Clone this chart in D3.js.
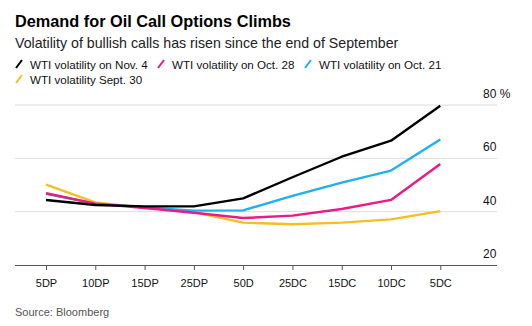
<!DOCTYPE html>
<html lang="en">
<head>
<meta charset="UTF-8">
<script src="https://d3js.org/d3.v7.min.js"></script>
<style>
  body { margin: 0; background: #fff; }
  svg text { font-family: "Liberation Sans", Arial, sans-serif; }
</style>
</head>
<body>
<div id="chart"></div>
<script>
  // strike buckets along the skew
  const strikes = ["5DP", "10DP", "15DP", "25DP", "50D", "25DC", "15DC", "10DC", "5DC"];

  const nov4  = [44.4, 42.5, 42.0, 42.0, 45.0, 52.9, 60.6, 66.6, 79.7];
  const oct28 = [46.9, 43.0, 41.4, 39.6, 37.6, 38.5, 41.0, 44.4, 57.9];
  const oct21 = [46.7, 43.0, 41.6, 40.4, 40.5, 45.9, 50.9, 55.4, 67.1];
  const sep30 = [50.1, 43.5, 41.5, 39.8, 35.9, 35.3, 35.9, 37.1, 40.2];

  const yTicks = [20, 40, 60, 80];

  const series = [
    { name: "WTI volatility on Nov. 4",  values: nov4,  color: "#000000" },
    { name: "WTI volatility on Oct. 28", values: oct28, color: "#ec1a82" },
    { name: "WTI volatility on Oct. 21", values: oct21, color: "#1fb0f0" },
    { name: "WTI volatility Sept. 30",   values: sep30, color: "#f7be21" }
  ];
  // draw order: yellow at the back, then blue, magenta, black on top
  const drawOrder = [3, 2, 1, 0];

  const W = 532, H = 326;
  const plotLeft = 15, plotRight = 497, plotTop = 105, plotBottom = 265;

  const svg = d3.select("#chart").append("svg")
    .attr("width", W)
    .attr("height", H);

  svg.append("text")
    .attr("x", 15).attr("y", 27)
    .style("font-size", "16.3px")
    .style("font-weight", "bold")
    .attr("fill", "#000")
    .text("Demand for Oil Call Options Climbs");

  svg.append("text")
    .attr("x", 15).attr("y", 48)
    .style("font-size", "14.2px")
    .attr("fill", "#222")
    .text("Volatility of bullish calls has risen since the end of September");

  // legend
  const legendPos = [[15, 64], [157, 64], [304, 64], [15, 79]];
  const legend = svg.append("g").selectAll("g")
    .data(series)
    .join("g")
      .attr("transform", (d, i) => "translate(" + legendPos[i][0] + "," + legendPos[i][1] + ")");
  legend.append("line")
    .attr("x1", 1).attr("y1", 4)
    .attr("x2", 7).attr("y2", -4)
    .attr("stroke", d => d.color)
    .attr("stroke-width", 2);
  legend.append("text")
    .attr("x", 15).attr("y", 4.5)
    .style("font-size", "11.6px")
    .attr("fill", "#111")
    .text(d => d.name);

  const x = d3.scalePoint()
    .domain(strikes)
    .range([46, 440.3]);

  const y = d3.scaleLinear()
    .domain([20, 80])
    .range([plotBottom, plotTop]);

  // gridlines
  svg.append("g").selectAll("line")
    .data(yTicks.slice(1))
    .join("line")
      .attr("x1", plotLeft).attr("x2", plotRight)
      .attr("y1", d => y(d)).attr("y2", d => y(d))
      .attr("stroke", "#dcdcdc")
      .attr("stroke-width", 1);

  svg.append("g").selectAll("text")
    .data(yTicks)
    .join("text")
      .attr("x", 483)
      .attr("y", d => y(d) - 7)
      .style("font-size", "12px")
      .attr("fill", "#111")
      .text(d => d === 80 ? "80 %" : d);

  // x axis
  const xAxis = svg.append("g")
    .attr("transform", "translate(0," + plotBottom + ")")
    .call(d3.axisBottom(x).tickSize(5).tickPadding(9));
  xAxis.select(".domain")
    .attr("d", "M" + plotLeft + ",0.5H" + plotRight)
    .attr("stroke", "#555");
  xAxis.selectAll(".tick line").attr("stroke", "#555");
  xAxis.selectAll(".tick text")
    .style("font-size", "11px")
    .style("font-family", "\"Liberation Sans\", Arial, sans-serif")
    .attr("fill", "#111");

  const line = d3.line()
    .x((d, i) => x(strikes[i]))
    .y(d => y(d));

  svg.append("g").selectAll("path")
    .data(drawOrder.map(i => series[i]))
    .join("path")
      .attr("d", d => line(d.values))
      .attr("fill", "none")
      .attr("stroke", d => d.color)
      .attr("stroke-width", 2.4)
      .attr("stroke-linejoin", "round");

  svg.append("text")
    .attr("x", 15).attr("y", 316)
    .style("font-size", "11px")
    .attr("fill", "#555")
    .text("Source: Bloomberg");
</script>
</body>
</html>
